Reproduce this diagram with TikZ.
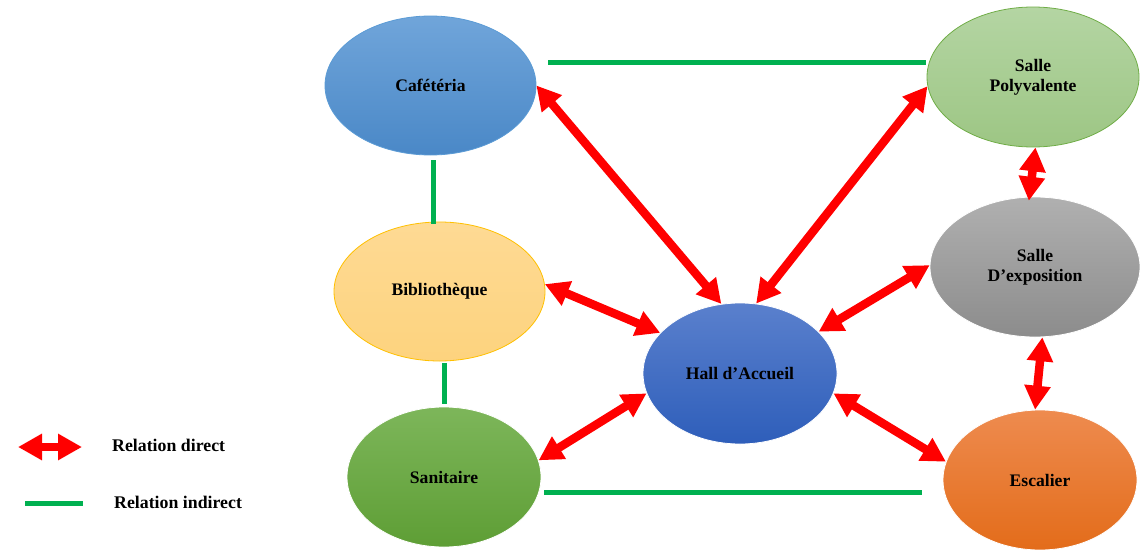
\documentclass[tikz,border=0pt]{standalone}
\usepackage{fontspec}
\setmainfont{Liberation Serif}
\usetikzlibrary{shapes.geometric,arrows.meta}

\definecolor{linkgreen}{HTML}{00B050}
\definecolor{cafTop}{RGB}{112,165,218}
\definecolor{cafBot}{RGB}{74,136,199}
\definecolor{cafLine}{RGB}{91,155,213}
\definecolor{polyTop}{RGB}{180,213,163}
\definecolor{polyBot}{RGB}{157,198,132}
\definecolor{polyLine}{RGB}{112,173,71}
\definecolor{expoTop}{RGB}{176,176,176}
\definecolor{expoBot}{RGB}{140,140,140}
\definecolor{escTop}{RGB}{238,139,79}
\definecolor{escBot}{RGB}{227,108,26}
\definecolor{bibTop}{RGB}{254,218,148}
\definecolor{bibBot}{RGB}{253,211,126}
\definecolor{bibLine}{RGB}{255,192,0}
\definecolor{sanTop}{RGB}{125,182,90}
\definecolor{sanBot}{RGB}{94,158,53}
\definecolor{hallTop}{RGB}{90,128,205}
\definecolor{hallBot}{RGB}{46,94,186}

\begin{document}
\begin{tikzpicture}[x=1pt,y=-1pt,
  place/.style={ellipse, inner sep=0pt, align=center, line width=0.8pt,
    font=\fontsize{17.6}{20}\selectfont\bfseries},
  direct/.style={draw=red, line width=8.5pt,
    {Triangle[width=25pt,length=24pt]}-{Triangle[width=25pt,length=24pt]}},
  indirect/.style={draw=linkgreen, line width=5pt},
  legendtext/.style={anchor=west, inner sep=0pt, font=\fontsize{17.8}{20}\selectfont\bfseries},
]
\useasboundingbox (0,0) rectangle (1140,549);

% rooms
\node[place, minimum width=211pt, minimum height=139pt, draw=cafLine,
  top color=cafTop, bottom color=cafBot] (caf) at (430.5,85.5) {Cafétéria};
\node[place, minimum width=212pt, minimum height=140pt, draw=polyLine,
  top color=polyTop, bottom color=polyBot] (poly) at (1033,77) {Salle\\Polyvalente};
\node[place, minimum width=210pt, minimum height=140pt, draw=white,
  top color=expoTop, bottom color=expoBot] (expo) at (1035,267) {Salle\\D’exposition};
\node[place, minimum width=194pt, minimum height=140pt, draw=white,
  top color=escTop, bottom color=escBot] (esc) at (1040,480) {Escalier};
\node[place, minimum width=211pt, minimum height=139pt, draw=bibLine,
  top color=bibTop, bottom color=bibBot] (bib) at (439.5,291.5) {Bibliothèque};
\node[place, minimum width=194pt, minimum height=140pt, draw=white,
  top color=sanTop, bottom color=sanBot] (san) at (444,477) {Sanitaire};
\node[place, minimum width=194pt, minimum height=141pt, draw=white,
  top color=hallTop, bottom color=hallBot] (hall) at (740,373.5) {Hall d’Accueil};

% indirect relations
\draw[indirect] ([shift={(12,-23.5)}]caf.east) -- ([shift={(-1,-15)}]poly.west);
\draw[indirect] ([shift={(3,5)}]caf.south) -- ([shift={(-6,2)}]bib.north);
\draw[indirect] ([shift={(4.5,2)}]bib.south) -- ([shift={(0,-3)}]san.north);
\draw[indirect] ([shift={(3,15)}]san.east) -- ([shift={(-21,12)}]esc.west);

% direct relations
\draw[direct] (caf.0) -- (hall.105);
\draw[direct] (poly.185) -- (hall.77);
\draw[direct] (poly.272) -- ([yshift=-4pt]expo.95);
\draw[direct] (expo.179) -- (hall.28);
\draw[direct] (expo.276) -- (esc.94);
\draw[direct] (hall.348) -- (esc.169);
\draw[direct] (bib.4) -- (hall.153);
\draw[direct] (san.10) -- (hall.192);

% legend
\coordinate (dl) at (18,447);
\coordinate (dr) at (82,447);
\draw[direct] (dl) -- (dr);
\node[legendtext] (ldirect) at (112,445) {Relation direct};
\coordinate (il) at (25,503);
\coordinate (ir) at (83,503);
\draw[indirect] (il) -- (ir);
\node[legendtext] (lindirect) at (114,502) {Relation indirect};
\end{tikzpicture}
\end{document}
